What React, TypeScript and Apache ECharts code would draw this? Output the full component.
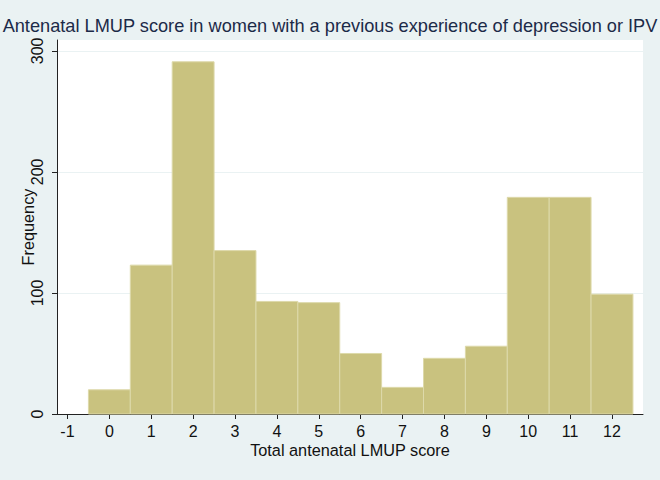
import React, { useEffect, useRef } from "react";
import * as echarts from "echarts";

const scores = [0, 1, 2, 3, 4, 5, 6, 7, 8, 9, 10, 11, 12];
const counts = [20, 123, 291, 135, 93, 92, 50, 22, 46, 56, 179, 179, 99];
const xTicks = [-1, 0, 1, 2, 3, 4, 5, 6, 7, 8, 9, 10, 11, 12];
const yTicks = [0, 100, 200, 300];

export default function App() {
  const ref = useRef<HTMLDivElement>(null);
  useEffect(() => {
    document.body.style.margin = "0";
    const chart = echarts.init(ref.current!, null, { renderer: "svg" });
    const data = scores.map((s, i) => [s, counts[i]]);
    const font = "Liberation Sans, Arial, sans-serif";
    chart.setOption({
      animation: false,
      backgroundColor: "#eaf2f3",
      textStyle: { fontFamily: font },
      title: {
        text: "Antenatal LMUP score in women with a previous experience of depression or IPV",
        left: "center",
        top: 12,
        textStyle: { fontSize: 18.2, fontWeight: "normal", color: "#1c2a48", fontFamily: font },
      },
      grid: {
        left: 57,
        right: 17,
        top: 40,
        bottom: 66,
        show: true,
        backgroundColor: "#ffffff",
        borderWidth: 0,
      },
      xAxis: {
        type: "value",
        min: -1.25,
        max: 12.74,
        name: "Total antenatal LMUP score",
        nameLocation: "middle",
        nameGap: 28,
        nameMoveOverlap: false,
        nameTextStyle: { fontSize: 16.3, color: "#111" },
        axisLine: { show: true, onZero: false, lineStyle: { color: "#222", width: 1 } },
        axisTick: { show: true, length: 5, customValues: xTicks, lineStyle: { color: "#222" } },
        axisLabel: { customValues: xTicks, fontSize: 16, color: "#111", margin: 9 },
        splitLine: { show: false },
      },
      yAxis: {
        type: "value",
        min: 0,
        max: 309,
        name: "Frequency",
        nameLocation: "middle",
        nameGap: 21,
        nameMoveOverlap: false,
        nameTextStyle: { fontSize: 16.3, color: "#111" },
        axisLine: { show: true, onZero: false, lineStyle: { color: "#222", width: 1 } },
        axisTick: { show: true, length: 5, customValues: yTicks, lineStyle: { color: "#222" } },
        axisLabel: { customValues: yTicks, fontSize: 16, color: "#111", rotate: 90, margin: 12 },
        splitLine: { show: true, lineStyle: { color: "#eaf2f3", width: 1 } },
      },
      series: [
        {
          type: "custom",
          data,
          renderItem: (params: any, api: any) => {
            const x = api.value(0);
            const y = api.value(1);
            const p1 = api.coord([x - 0.5, y]);
            const p2 = api.coord([x + 0.5, 0]);
            return {
              type: "rect",
              shape: { x: p1[0], y: p1[1], width: p2[0] - p1[0], height: p2[1] - p1[1] },
              style: { fill: "#c9c27f", stroke: "#ddd9aa", lineWidth: 1 },
            };
          },
        },
      ],
    });
    return () => chart.dispose();
  }, []);
  return <div ref={ref} style={{ width: 660, height: 480 }} />;
}
